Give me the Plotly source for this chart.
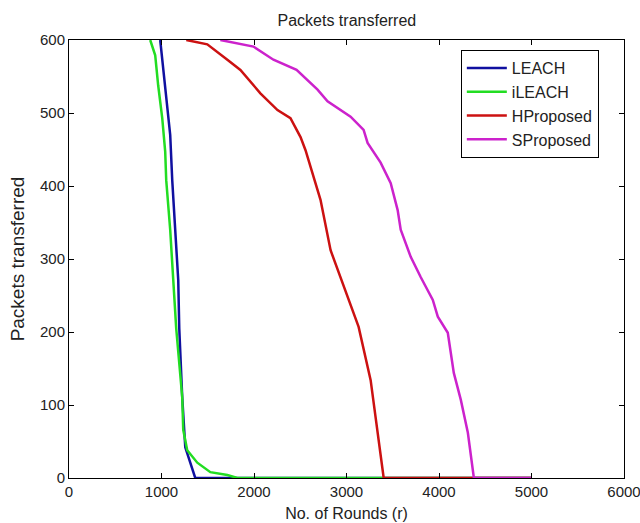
import plotly.graph_objects as go

leach_x = [986, 1018, 1062, 1094, 1116, 1148, 1181, 1192, 1224, 1257, 1311, 1365, 5000]
leach_y = [600, 562, 515, 470, 408, 340, 271, 205, 111, 42, 21, 0, 0]

ileach_x = [878, 932, 964, 1008, 1040, 1051, 1094, 1127, 1159, 1224, 1235, 1278, 1387, 1528, 1712, 1820, 5000]
ileach_y = [600, 579, 538, 493, 447, 408, 340, 271, 205, 111, 66, 38, 21, 8, 4, 0, 0]

hprop_x = [1268, 1495, 1712, 1853, 2069, 2254, 2394, 2503, 2557, 2719, 2828, 2969, 3131, 3261, 3348, 3402, 5000]
hprop_y = [600, 594, 573, 559, 527, 504, 493, 467, 449, 381, 312, 262, 207, 134, 52, 0, 0]

sprop_x = [1636, 1994, 2210, 2460, 2687, 2795, 3044, 3185, 3228, 3369, 3478, 3553, 3586, 3694, 3803,
           3933, 3987, 4095, 4160, 4236, 4312, 4344, 4366, 4377, 5000]
sprop_y = [600, 591, 573, 559, 532, 516, 495, 477, 459, 432, 404, 367, 340, 303, 275,
           244, 221, 199, 144, 107, 62, 34, 15, 0, 0]

x_ticks = [0, 1000, 2000, 3000, 4000, 5000, 6000]
y_ticks = [0, 100, 200, 300, 400, 500, 600]

series = [
    ("LEACH", leach_x, leach_y, "#1010a0"),
    ("iLEACH", ileach_x, ileach_y, "#22dd22"),
    ("HProposed", hprop_x, hprop_y, "#cc1111"),
    ("SProposed", sprop_x, sprop_y, "#cc22cc"),
]

fig = go.Figure()
for name, xs, ys, col in series:
    fig.add_trace(go.Scatter(x=xs, y=ys, mode="lines", name=name,
                             line=dict(color=col, width=2.5)))

font = "Liberation Sans, Arial, sans-serif"
txt = "#222"
axis_common = dict(showline=True, linecolor="black", linewidth=1, mirror="ticks",
                   ticks="inside", ticklen=5, tickcolor="black", showgrid=False,
                   zeroline=False, automargin=False, ticklabeloverflow="allow",
                   tickfont=dict(family=font, size=15, color=txt))

fig.update_layout(
    width=640, height=523,
    paper_bgcolor="white", plot_bgcolor="white",
    margin=dict(l=69, r=16, t=40, b=45),
    title=dict(text="Packets transferred", x=0.542, xanchor="center",
               y=1 - 20 / 523, yanchor="middle",
               font=dict(family=font, size=16, color=txt)),
    xaxis=dict(range=[0, 6000], tickvals=x_ticks,
               title=dict(text="No. of Rounds (r)", font=dict(family=font, size=16, color=txt), standoff=8),
               **axis_common),
    yaxis=dict(range=[0, 600], tickvals=y_ticks,
               title=dict(text="Packets transferred", font=dict(family=font, size=19, color=txt), standoff=10),
               **axis_common),
    legend=dict(x=0.706, y=0.977, xanchor="left", yanchor="top", bgcolor="white",
                bordercolor="black", borderwidth=1, font=dict(family=font, size=16, color=txt),
                itemwidth=40),
    showlegend=True,
)

fig.write_html("out.html", config={"displayModeBar": False},
               post_script="document.body.style.margin='0px';")
